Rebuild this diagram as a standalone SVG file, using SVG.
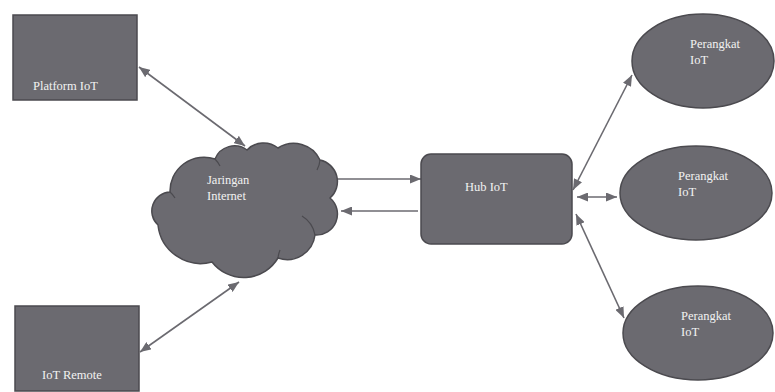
<svg xmlns="http://www.w3.org/2000/svg" width="775" height="392" viewBox="0 0 775 392">
<style>
.node{fill:#6b6a70;stroke:#4b4a4f;stroke-width:1.5}
.lbl{font-family:"Liberation Serif","DejaVu Serif",serif;font-size:12.5px;fill:#f2f2f2}
.conn{stroke:#6b6a70;stroke-width:1.6;fill:none;marker-end:url(#ah)}
.bi{marker-start:url(#ah)}
</style>
<defs>
<marker id="ah" markerUnits="userSpaceOnUse" markerWidth="11" markerHeight="9" refX="11" refY="4.5" orient="auto-start-reverse">
<path d="M0,0 L11,4.5 L0,9 z" fill="#6b6a70"/>
</marker>
</defs>
<rect width="775" height="392" fill="#ffffff"/>
<g id="connectors">
<line class="conn bi" x1="139" y1="67" x2="245" y2="146"/>
<line class="conn" x1="338" y1="179" x2="421" y2="179"/>
<line class="conn" x1="418" y1="211" x2="341" y2="211"/>
<line class="conn bi" x1="573" y1="190" x2="632" y2="75"/>
<line class="conn bi" x1="577" y1="197" x2="617" y2="197"/>
<line class="conn bi" x1="576" y1="214" x2="624" y2="318"/>
<line class="conn bi" x1="140" y1="352" x2="239" y2="282"/>
</g>
<g id="platform">
<rect class="node" x="13" y="15" width="124" height="85"/>
<text class="lbl" x="33" y="90">Platform IoT</text>
</g>
<g id="cloud">
<path class="node" d="M215,159 A21,21 0 0 1 247,150 A23,23 0 0 1 278,148 A29,29 0 0 1 320,160 A22,22 0 0 1 330,198 A21,21 0 0 1 315,235 A28,28 0 0 1 278,258 A40,40 0 0 1 212,262 A43,43 0 0 1 158,225 A19,19 0 0 1 170,192 A34,34 0 0 1 215,159 Z"/>
<path d="M215,159 A30,30 0 0 1 220,166 M320,160 A25,25 0 0 1 317,170 M315,235 A28,28 0 0 0 302,216 M278,258 A30,30 0 0 1 280,250 M170,192 A25,25 0 0 1 175,198" fill="none" stroke="#4b4a4f" stroke-width="1.2"/>
<text class="lbl" x="207" y="184">Jaringan</text>
<text class="lbl" x="207" y="200">Internet</text>
</g>
<g id="hub">
<rect class="node" x="421" y="154" width="151" height="90" rx="10"/>
<text class="lbl" x="465" y="191">Hub IoT</text>
</g>
<g id="device1">
<ellipse class="node" cx="703" cy="61" rx="71" ry="47"/>
<text class="lbl" x="690" y="48">Perangkat</text>
<text class="lbl" x="690" y="64">IoT</text>
</g>
<g id="device2">
<ellipse class="node" cx="696" cy="193" rx="76" ry="47"/>
<text class="lbl" x="678" y="180">Perangkat</text>
<text class="lbl" x="678" y="196">IoT</text>
</g>
<g id="device3">
<ellipse class="node" cx="698" cy="333" rx="75" ry="47"/>
<text class="lbl" x="681" y="320">Perangkat</text>
<text class="lbl" x="681" y="336">IoT</text>
</g>
<g id="remote">
<rect class="node" x="15" y="306" width="124" height="85"/>
<text class="lbl" x="42" y="379">IoT Remote</text>
</g>
</svg>
